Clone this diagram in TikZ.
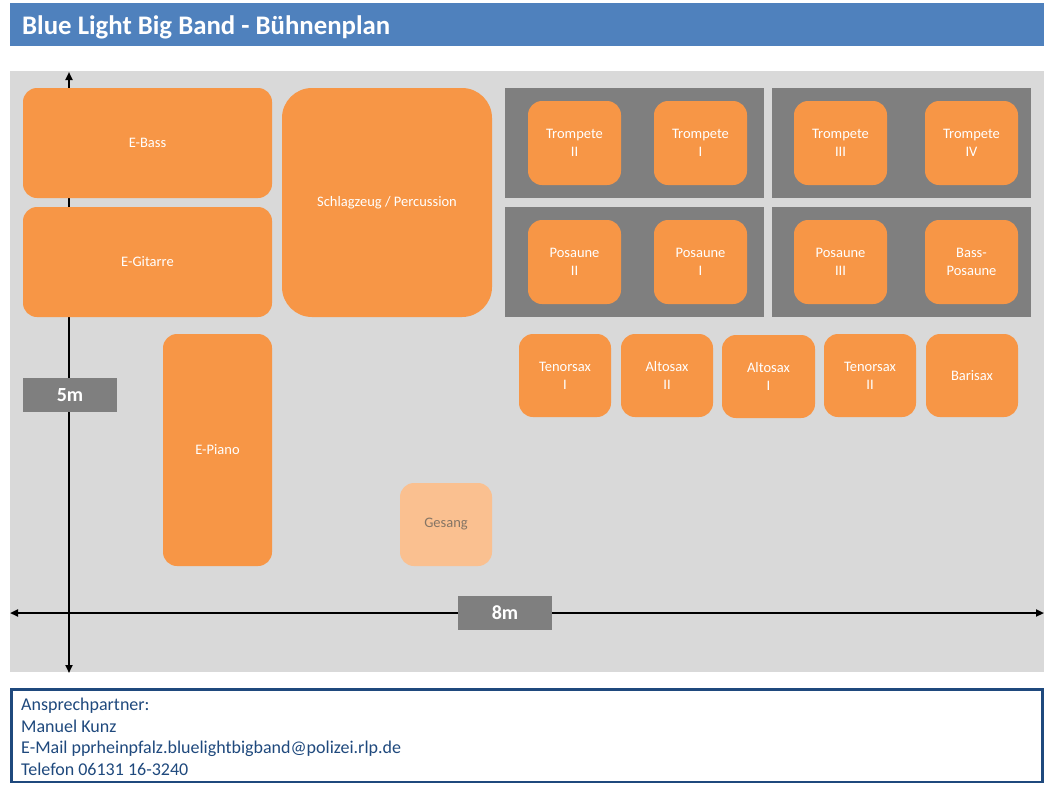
\documentclass[tikz,border=0pt]{standalone}
\usepackage{fontspec}
\setmainfont{Carlito}
\usetikzlibrary{arrows.meta}
\definecolor{titleblue}{HTML}{4F81BD}
\definecolor{stagegray}{HTML}{D9D9D9}
\definecolor{panelgray}{HTML}{7F7F7F}
\definecolor{instorange}{HTML}{F79646}
\definecolor{lightorange}{HTML}{FAC090}
\definecolor{darkblue}{HTML}{1F497D}
\definecolor{gesangtext}{HTML}{857565}
\tikzset{
  inst/.style={fill=instorange, draw=none, rounded corners=14pt, text=white, align=center,
    font=\fontsize{14.5}{18}\selectfont, inner sep=0pt},
  panel/.style={fill=panelgray, draw=none, inner sep=0pt},
  dimbox/.style={fill=panelgray, draw=none, inner sep=0pt, text=white,
    font=\fontsize{20}{22}\selectfont\bfseries, minimum width=94pt, minimum height=34pt},
  axis/.style={line width=2pt, {Triangle[length=8pt,width=7pt]}-{Triangle[length=8pt,width=7pt]}},
}
\newcommand{\boxat}[6]{% name, x1, y1, x2, y2, text
  \node[inst, minimum width={#4-#2}, minimum height={#5-#3}] (#1) at ({(#2+#4)/2},{(#3+#5)/2}) {#6};}
\begin{document}
\begin{tikzpicture}[x=1pt,y=-1pt]
\useasboundingbox (0,0) rectangle (1051,793);
\fill[white] (0,0) rectangle (1051,793);
% title
\fill[titleblue] (10,3) rectangle (1044,46);
\node[anchor=base west, text=white, font=\fontsize{26.8}{30}\selectfont\bfseries, inner sep=0pt] (title) at (22,34) {Blue Light Big Band - Bühnenplan};
% stage
\fill[stagegray] (10,71) rectangle (1044,672);
\coordinate (vtop) at (69,72);
\coordinate (vbot) at (69,673);
\coordinate (hleft) at (10,613);
\coordinate (hright) at (1044,613);
\draw[axis] (vbot) -- (vtop);
\draw[axis] (hleft) -- (hright);
\node[dimbox] (fivem) at (70,395) {5m};
\node[dimbox] (eightm) at (505,613) {8m};
% rhythm section
\boxat{ebass}{23}{88}{272}{198}{E-Bass}
\boxat{egit}{23}{207}{272}{317}{E-Gitarre}
\node[inst, rounded corners=30pt, minimum width=210pt, minimum height=229pt] (drums) at (387,202.5) {Schlagzeug / Percussion};
\boxat{epiano}{163}{334}{272}{566}{E-Piano}
\node[inst, fill=lightorange, text=gesangtext, minimum width=92pt, minimum height=83pt] (gesang) at (446,524.5) {Gesang};
% panels
\fill[panelgray] (505,88) rectangle (764,198);
\fill[panelgray] (772,88) rectangle (1031,198);
\fill[panelgray] (505,207) rectangle (764,317);
\fill[panelgray] (772,207) rectangle (1031,317);
% trumpets
\boxat{tr2}{528}{101}{621}{185}{Trompete\\II}
\boxat{tr1}{654}{101}{747}{185}{Trompete\\I}
\boxat{tr3}{794}{101}{887}{185}{Trompete\\III}
\boxat{tr4}{925}{101}{1018}{185}{Trompete\\IV}
% trombones
\boxat{po2}{528}{220}{621}{304}{Posaune\\II}
\boxat{po1}{654}{220}{747}{304}{Posaune\\I}
\boxat{po3}{794}{220}{887}{304}{Posaune\\III}
\boxat{bpo}{925}{220}{1018}{304}{Bass-\\Posaune}
% saxes
\boxat{ts1}{519}{334}{611}{417}{Tenorsax\\I}
\boxat{as2}{621}{334}{713}{417}{Altosax\\II}
\boxat{as1}{722}{335}{815}{418}{Altosax\\I}
\boxat{ts2}{824}{334}{916}{417}{Tenorsax\\II}
\boxat{bari}{926}{334}{1018}{417}{Barisax}
% contact box
\draw[darkblue, line width=2.5pt, fill=white] (11.5,689.5) rectangle (1042.5,782);
\node[anchor=north west, text=darkblue, align=left, inner sep=0pt,
  font=\fontsize{18}{21.5}\selectfont] (contact) at (21,698)
  {Ansprechpartner:\\Manuel Kunz\\E-Mail pprheinpfalz.bluelightbigband@polizei.rlp.de\\Telefon 06131 16-3240};
\end{tikzpicture}
\end{document}
